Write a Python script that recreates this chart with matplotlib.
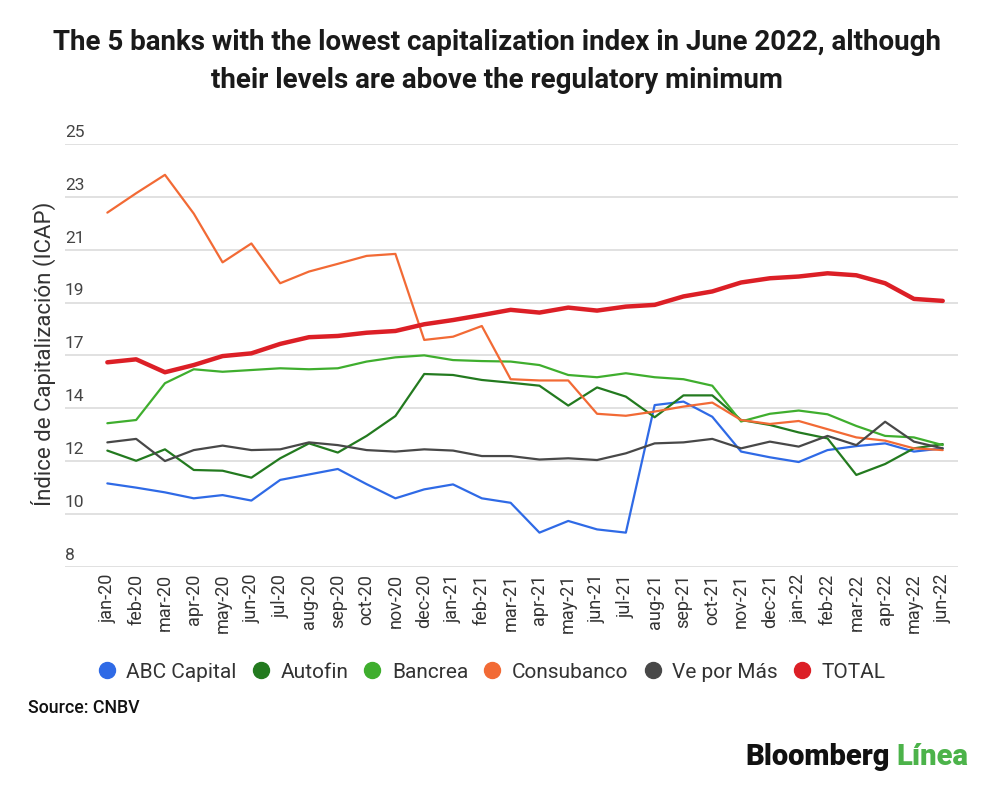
import matplotlib
matplotlib.use("Agg")
import matplotlib.pyplot as plt
import matplotlib.transforms as mtransforms
from matplotlib.lines import Line2D
import numpy as np

plt.rcParams['font.family'] = ['Roboto', 'DejaVu Sans']

months = ["jan-20", "feb-20", "mar-20", "apr-20", "may-20", "jun-20", "jul-20", "aug-20",
          "sep-20", "oct-20", "nov-20", "dec-20", "jan-21", "feb-21", "mar-21", "apr-21",
          "may-21", "jun-21", "jul-21", "aug-21", "sep-21", "oct-21", "nov-21", "dec-21",
          "jan-22", "feb-22", "mar-22", "apr-22", "may-22", "jun-22"]

abc_capital = [11.35, 11.18, 10.99, 10.75, 10.88, 10.66, 11.49, 11.71, 11.93, 11.32,
               10.75, 11.11, 11.31, 10.75, 10.57, 9.37, 9.84, 9.50, 9.37, 14.50,
               14.64, 14.03, 12.63, 12.40, 12.21, 12.69, 12.85, 12.96, 12.63, 12.76]
autofin = [12.67, 12.26, 12.72, 11.89, 11.86, 11.58, 12.36, 12.96, 12.59, 13.26,
           14.06, 15.75, 15.71, 15.51, 15.40, 15.28, 14.48, 15.21, 14.84, 14.01,
           14.89, 14.89, 13.90, 13.70, 13.40, 13.16, 11.69, 12.13, 12.76, 12.93]
bancrea = [13.77, 13.90, 15.38, 15.94, 15.84, 15.91, 15.98, 15.94, 15.98, 16.25,
           16.42, 16.50, 16.31, 16.27, 16.25, 16.11, 15.71, 15.62, 15.78, 15.62,
           15.54, 15.28, 13.84, 14.15, 14.28, 14.13, 13.66, 13.26, 13.20, 12.89]
consubanco = [22.24, 23.02, 23.76, 22.20, 20.24, 21.00, 19.40, 19.87, 20.18, 20.50,
              20.58, 17.12, 17.25, 17.68, 15.54, 15.49, 15.49, 14.15, 14.07, 14.24,
              14.44, 14.60, 13.90, 13.74, 13.86, 13.53, 13.20, 13.07, 12.76, 12.69]
ve_por_mas = [13.00, 13.14, 12.25, 12.69, 12.87, 12.69, 12.72, 13.00, 12.89, 12.69,
              12.63, 12.72, 12.67, 12.45, 12.45, 12.31, 12.36, 12.29, 12.56, 12.96,
              13.00, 13.14, 12.76, 13.03, 12.83, 13.26, 12.89, 13.83, 13.03, 12.76]
total = [16.22, 16.34, 15.82, 16.11, 16.47, 16.58, 16.96, 17.23, 17.28, 17.41,
         17.48, 17.75, 17.92, 18.12, 18.33, 18.22, 18.42, 18.30, 18.46, 18.53,
         18.87, 19.07, 19.43, 19.60, 19.67, 19.80, 19.72, 19.40, 18.77, 18.69]

series_names = ["ABC Capital", "Autofin", "Bancrea", "Consubanco", "Ve por Más", "TOTAL"]
series_values = [abc_capital, autofin, bancrea, consubanco, ve_por_mas, total]
series_colors = ["#2f6ae6", "#237a1f", "#3fae2e", "#f26a35", "#484848", "#dc1f26"]
series_widths = [1.6, 1.6, 1.6, 1.6, 1.6, 3.2]

ytick_values = [8, 10.125, 12.25, 14.375, 16.5, 18.625, 20.75, 22.875, 25]
ytick_labels = ["8", "10", "12", "14", "17", "19", "21", "23", "25"]

W, H = 1000, 791
fig = plt.figure(figsize=(W / 100, H / 100), dpi=100)
ax_left, ax_right = 65 / W, 958 / W
ax_bottom, ax_top = 1 - 566.7 / H, 1 - 144 / H
ax = fig.add_axes([ax_left, ax_bottom, ax_right - ax_left, ax_top - ax_bottom])

x = np.arange(len(months))
for name, vals, col, lw in zip(series_names, series_values, series_colors, series_widths):
    ax.plot(x, vals, color=col, lw=lw, solid_joinstyle='round', solid_capstyle='round',
            zorder=3 if name != "TOTAL" else 4)

ax.set_xlim(-1.47, 29.53)
ax.set_ylim(8, 25)
ax.set_yticks(ytick_values)
ax.set_yticklabels(ytick_labels)
ax.set_xticks(x)
ax.set_xticklabels(months, rotation=90, fontsize=13, color="#333333")
ax.tick_params(axis='x', length=0, pad=5)
ax.tick_params(axis='y', length=0, pad=0, labelsize=12.5, labelcolor="#444444")
offset = mtransforms.ScaledTranslation(0, 3 / 72, fig.dpi_scale_trans)
for lab in ax.get_yticklabels():
    lab.set_horizontalalignment('left')
    lab.set_verticalalignment('bottom')
    lab.set_transform(lab.get_transform() + offset)

ax.grid(axis='y', color="#dedede", lw=1.3)
ax.set_axisbelow(True)
for s in ax.spines.values():
    s.set_visible(False)

fig.text(43 / W, 1 - 354 / H, "Índice de Capitalización (ICAP)", rotation=90,
         ha='center', va='center', fontsize=16, color="#333333")

fig.text(0.497, 1 - 43 / H, "The 5 banks with the lowest capitalization index in June 2022, although",
         ha='center', va='center', fontsize=20, fontweight='bold', color="#1a1a1a")
fig.text(0.497, 1 - 80 / H, "their levels are above the regulatory minimum",
         ha='center', va='center', fontsize=20, fontweight='bold', color="#1a1a1a")

handles = [Line2D([0], [0], marker='o', linestyle='none', markersize=11.5,
                  markerfacecolor=c, markeredgecolor=c) for c in series_colors]
fig.legend(handles, series_names, loc='center', bbox_to_anchor=(0.492, 1 - 672 / H),
           ncol=6, frameon=False, fontsize=15, handlelength=0.8, handletextpad=0.55,
           columnspacing=0.75, labelcolor="#333333")

fig.text(28 / W, 1 - 708 / H, "Source: CNBV", ha='left', va='center', fontsize=12.8,
         fontweight='medium', color="#111111")

fig.text(890 / W, 1 - 757 / H, "Bloomberg", ha='right', va='center', fontsize=21,
         fontweight='black', color="#111111")
fig.text(896 / W, 1 - 757 / H, "Línea", ha='left', va='center', fontsize=21,
         fontweight='black', color="#4cb34a")

fig.savefig("out.png", dpi=100, facecolor='white')
